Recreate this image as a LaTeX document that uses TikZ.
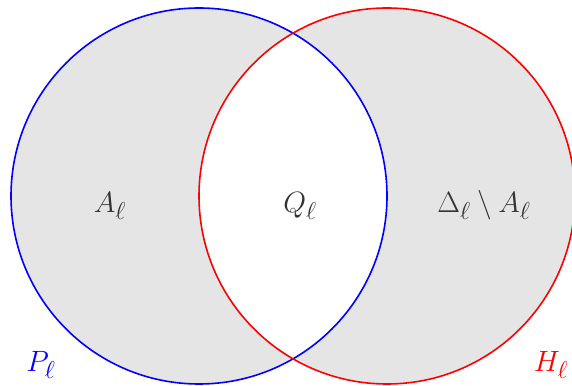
\documentclass[tikz,border=0pt]{standalone}
\begin{document}
\begin{tikzpicture}[x=1pt,y=1pt,
  lbl/.style={anchor=base,inner sep=0pt,text=black!80,font=\Huge,scale=1.18,transform shape},
  circ/.style={line width=1.6pt}]
\useasboundingbox (0,0) rectangle (572,385);
\coordinate (pc) at (199,189);
\coordinate (hc) at (387,189);
\fill[black!10,even odd rule] (pc) circle[radius=188] (hc) circle[radius=188];
\draw[circ,blue] (pc) circle[radius=188];
\draw[circ,red] (hc) circle[radius=188];
\node[lbl] (a) at (110,172) {$A_\ell$};
\node[lbl] (q) at (300,172) {$Q_\ell$};
\node[lbl] (d) at (484,172) {$\Delta_\ell\setminus A_\ell$};
\node[lbl,text=blue] (p) at (41,13) {$P_\ell$};
\node[lbl,text=red] (h) at (551,13) {$H_\ell$};
\end{tikzpicture}
\end{document}
